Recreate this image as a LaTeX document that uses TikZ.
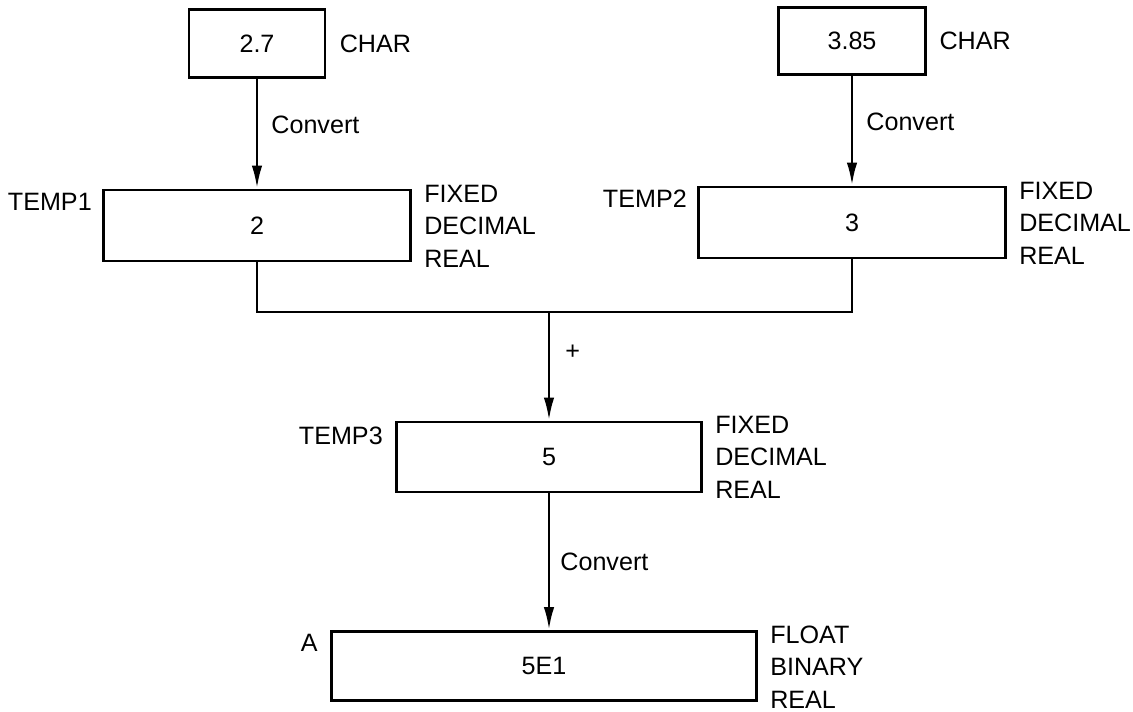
\documentclass[tikz,border=0pt]{standalone}
\usepackage{fontspec}
\setmainfont{Liberation Sans}
\usetikzlibrary{positioning,arrows.meta}

\begin{document}
\begin{tikzpicture}[
    % 1 unidade = 1 pixel da figura original
    x=0.02cm, y=-0.02cm,
    line width=1.6pt,
    font=\fontsize{14.3}{18.5}\selectfont,
    caixa/.style={draw, minimum width=6.14cm, minimum height=1.42cm, inner sep=0pt},
    valor/.style={draw, minimum height=1.35cm, inner sep=0pt},
    rotulo/.style={inner sep=0pt, align=left},
    seta/.style={-{Latex[length=0.46cm,width=0.21cm]}}
]
    \useasboundingbox (0,0) rectangle (1133,712);

    % ==========================================
    % 1. VALORES DE ENTRADA (CHAR)
    % ==========================================
    \node[valor, minimum width=2.72cm] (c1) at (257,43.5) {2.7};
    \node[rotulo, right=0.24cm of c1] (c1tipo) {CHAR};
    \node[valor, minimum width=2.95cm] (c2) at (852,41) {3.85};
    \node[rotulo, right=0.22cm of c2] (c2tipo) {CHAR};

    % ==========================================
    % 2. TEMPORARIOS
    % ==========================================
    \node[caixa] (t1) at (257,225.5) {2};
    \node[caixa] (t2) at (852,222.5) {3};
    \node[caixa, minimum width=6.1cm, minimum height=1.4cm] (t3) at (549,457) {5};
    \node[caixa, minimum width=8.5cm, minimum height=1.38cm] (a) at (544,666) {5E1};

    % nomes a esquerda
    \node[rotulo, anchor=north east] (t1nome) at ([xshift=-0.18cm, yshift=-0.06cm]t1.north west) {TEMP1};
    \node[rotulo, anchor=north east] (t2nome) at ([xshift=-0.18cm, yshift=-0.06cm]t2.north west) {TEMP2};
    \node[rotulo, anchor=north east] (t3nome) at ([xshift=-0.22cm, yshift=-0.1cm]t3.north west) {TEMP3};
    \node[rotulo, anchor=north east] (anome) at ([xshift=-0.22cm, yshift=-0.06cm]a.north west) {A};

    % tipos a direita
    \node[rotulo, anchor=north west] (t1tipo) at ([xshift=0.22cm, yshift=0.1cm]t1.north east) {FIXED\\DECIMAL\\REAL};
    \node[rotulo, anchor=north west] (t2tipo) at ([xshift=0.22cm, yshift=0.1cm]t2.north east) {FIXED\\DECIMAL\\REAL};
    \node[rotulo, anchor=north west] (t3tipo) at ([xshift=0.22cm, yshift=0.12cm]t3.north east) {FIXED\\DECIMAL\\REAL};
    \node[rotulo, anchor=north west] (atipo) at ([xshift=0.22cm, yshift=0.12cm]a.north east) {FLOAT\\BINARY\\REAL};

    % ==========================================
    % 3. LIGACOES
    % ==========================================
    \draw[seta] (c1) -- node[rotulo, right=0.26cm, pos=0.42] {Convert} (t1);
    \draw[seta] (c2) -- node[rotulo, right=0.26cm, pos=0.42] {Convert} (t2);

    \coordinate (juncao) at (549,312); % ponto onde os dois ramos se juntam
    \draw (t1.south) |- (juncao) -| (t2.south);
    \draw[seta] (juncao) -- node[rotulo, right=0.3cm, pos=0.37] {+} (t3.north);

    \draw[seta] (t3.south) -- node[rotulo, right=0.2cm, pos=0.5] {Convert} (t3.south |- a.north);

\end{tikzpicture}
\end{document}
